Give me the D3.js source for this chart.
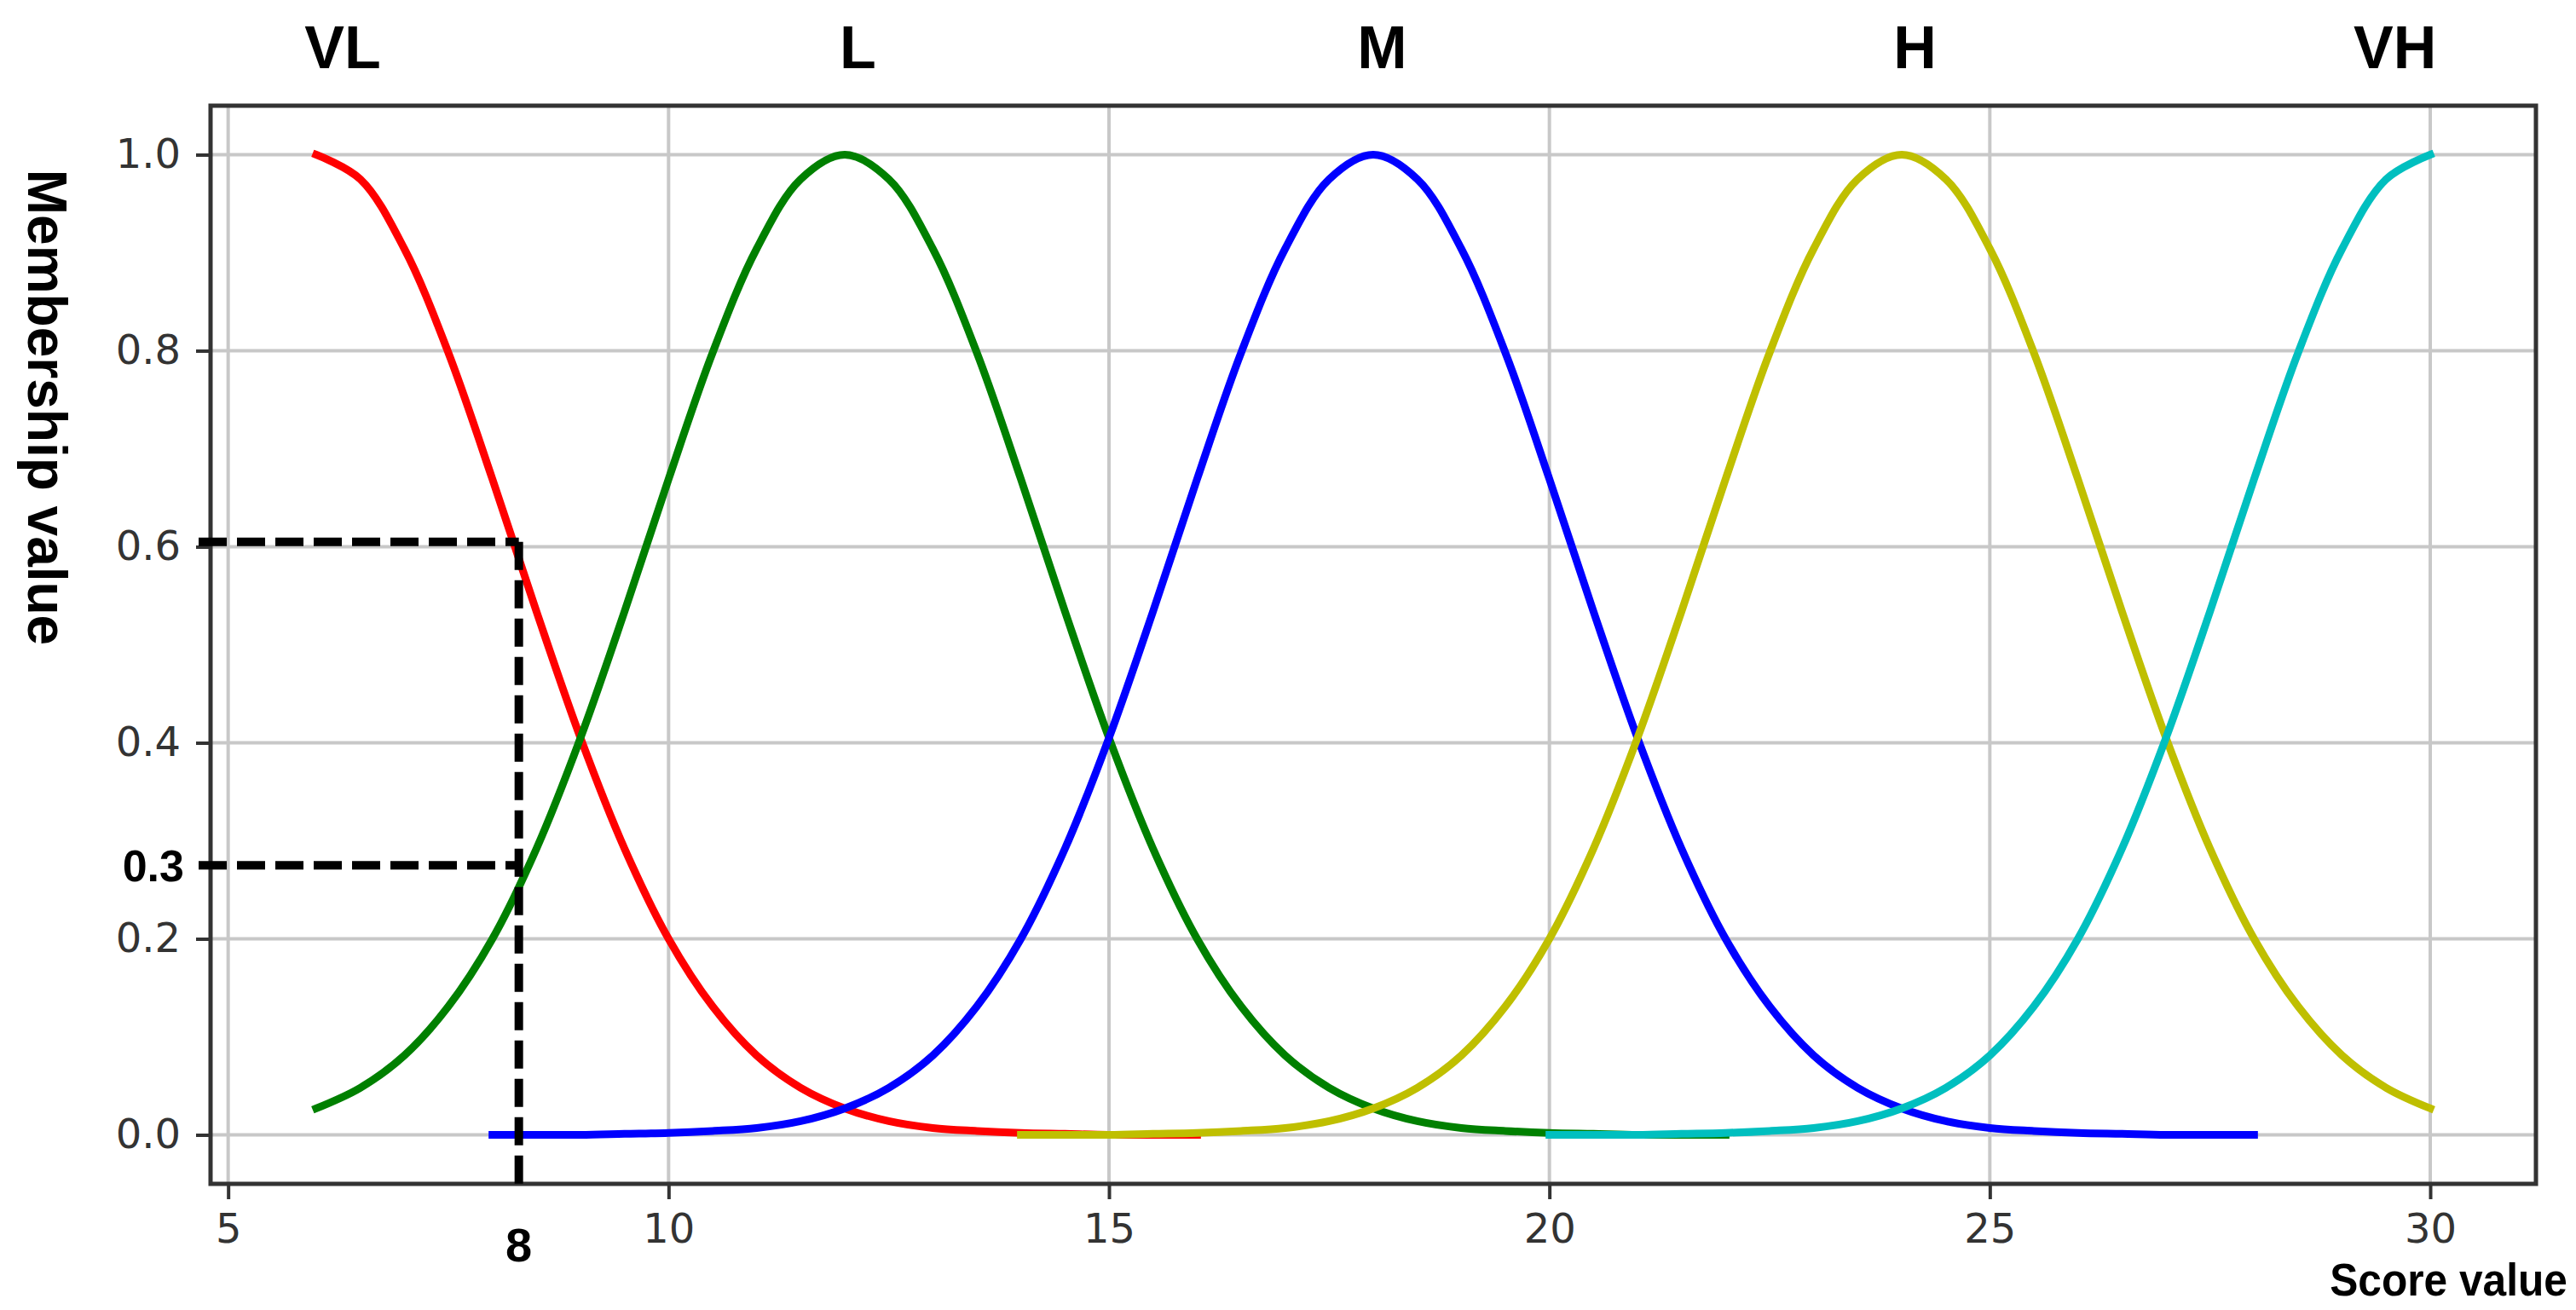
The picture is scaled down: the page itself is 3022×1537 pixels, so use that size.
<!DOCTYPE html>
<html>
<head>
<meta charset="utf-8">
<script src="https://cdn.jsdelivr.net/npm/d3@7"></script>
<style>
  body { margin: 0; background: #fff; }
</style>
</head>
<body>
<div id="chart"></div>
<script>
/*
 * Gaussian membership functions for the five score terms
 */

// score grid shared by every curve (step 0.5)
const scores = [6, 6.5, 7, 7.5, 8, 8.5, 9, 9.5, 10, 10.5, 11, 11.5, 12, 12.5, 13, 13.5, 14, 14.5,
    15, 15.5, 16, 16.5, 17, 17.5, 18, 18.5, 19, 19.5, 20, 20.5, 21, 21.5, 22, 22.5, 23, 23.5,
    24, 24.5, 25, 25.5, 26, 26.5, 27, 27.5, 28, 28.5, 29, 29.5, 30]

// membership values (null = curve not drawn there)
const veryLow = [1.000, 0.975, 0.904, 0.798, 0.669, 0.534, 0.405, 0.292, 0.200, 0.131, 0.081, 0.048,
    0.027, 0.014, 0.007, 0.004, 0.002, 0.001, 0, 0, 0,
    null, null, null, null, null, null, null, null, null, null, null, null, null, null,
    null, null, null, null, null, null, null, null, null, null, null, null, null, null]
const low = [0.027, 0.048, 0.081, 0.131, 0.200, 0.292, 0.405, 0.534, 0.669, 0.798, 0.904, 0.975, 1.000,
    0.975, 0.904, 0.798, 0.669, 0.534, 0.405, 0.292, 0.200, 0.131, 0.081, 0.048, 0.027, 0.014, 0.007,
    0.004, 0.002, 0.001, 0, 0, 0,
    null, null, null, null, null, null, null, null, null, null, null, null, null, null, null, null]
const medium = [null, null, null, null,
    0, 0, 0, 0.001, 0.002, 0.004, 0.007, 0.014, 0.027, 0.048, 0.081, 0.131, 0.200, 0.292, 0.405, 0.534,
    0.669, 0.798, 0.904, 0.975, 1.000, 0.975, 0.904, 0.798, 0.669, 0.534, 0.405, 0.292, 0.200, 0.131,
    0.081, 0.048, 0.027, 0.014, 0.007, 0.004, 0.002, 0.001, 0, 0, 0,
    null, null, null, null]
const high = [null, null, null, null, null, null, null, null, null, null, null, null, null, null, null, null,
    0, 0, 0, 0.001, 0.002, 0.004, 0.007, 0.014, 0.027, 0.048, 0.081, 0.131, 0.200, 0.292, 0.405, 0.534,
    0.669, 0.798, 0.904, 0.975, 1.000, 0.975, 0.904, 0.798, 0.669, 0.534, 0.405, 0.292, 0.200, 0.131,
    0.081, 0.048, 0.027]
const veryHigh = [null, null, null, null, null, null, null, null, null, null, null, null, null, null,
    null, null, null, null, null, null, null, null, null, null, null, null, null, null,
    0, 0, 0, 0.001, 0.002, 0.004, 0.007, 0.014, 0.027, 0.048, 0.081, 0.131, 0.200, 0.292, 0.405, 0.534,
    0.669, 0.798, 0.904, 0.975, 1.000]

const termNames = ["VL", "L", "M", "H", "VH"]
const termLabelScores = [6.3, 12.15, 18.1, 24.15, 29.6]
const termColours = ["#ff0000", "#008000", "#0000ff", "#bfbf00", "#00bfbf"]

const xTicks = [5, 10, 15, 20, 25, 30]
const yTicks = [0, 0.2, 0.4, 0.6, 0.8, 1.0]

// worked example: score 8 -> memberships 0.6 (VL) and 0.3 (L)
const exampleScore = 8.3
const exampleLabel = "8"
const exampleLevels = [0.605, 0.275]
const exampleLevelLabel = "0.3"

function drawChart(container) {

    // chart parameters
    const WIDTH = 3022
    const HEIGHT = 1537
    const PLOT = {LEFT: 247, RIGHT: 2975, TOP: 124, BOTTOM: 1389}
    const gridColour = "#c8c8c8"
    const axisColour = "#333333"

    let svg = d3.select(container).append("svg")
        .attr("width", WIDTH)
        .attr("height", HEIGHT)
        .style("display", "block")

    // scales (matplotlib style 5% margins round the data)
    let xScale = d3.scaleLinear()
        .domain([4.8, 31.2])
        .range([PLOT.LEFT, PLOT.RIGHT])
    let yScale = d3.scaleLinear()
        .domain([-0.05, 1.05])
        .range([PLOT.BOTTOM, PLOT.TOP])

    // grid
    let grid = svg.append("g").attr("class", "grid")
    grid.selectAll("line.vx").data(xTicks).join("line")
        .attr("x1", d => xScale(d)).attr("x2", d => xScale(d))
        .attr("y1", PLOT.TOP).attr("y2", PLOT.BOTTOM)
        .style("stroke", gridColour).style("stroke-width", 4)
    grid.selectAll("line.hy").data(yTicks).join("line")
        .attr("x1", PLOT.LEFT).attr("x2", PLOT.RIGHT)
        .attr("y1", d => yScale(d)).attr("y2", d => yScale(d))
        .style("stroke", gridColour).style("stroke-width", 4)

    // membership curves
    let linepoints = d3.line()
        .defined(d => d[1] !== null)
        .x(d => xScale(d[0]))
        .y(d => yScale(d[1]))
        .curve(d3.curveCatmullRom.alpha(0.5))

    const series = [veryLow, low, medium, high, veryHigh]
    series.forEach((values, i) => {
        svg.append("path")
            .datum(scores.map((s, j) => [s, values[j]]))
            .attr("d", linepoints)
            .style("fill", "none")
            .style("stroke", termColours[i])
            .style("stroke-width", 9)
            .style("stroke-linecap", "square")
            .style("stroke-linejoin", "round")
    })

    // frame
    svg.append("rect")
        .attr("x", PLOT.LEFT).attr("y", PLOT.TOP)
        .attr("width", PLOT.RIGHT - PLOT.LEFT)
        .attr("height", PLOT.BOTTOM - PLOT.TOP)
        .style("fill", "none")
        .style("stroke", axisColour)
        .style("stroke-width", 5)

    // axes
    let xAxis = svg.append("g")
        .attr("transform", "translate(0," + PLOT.BOTTOM + ")")
        .call(d3.axisBottom(xScale).tickValues(xTicks).tickSize(18).tickPadding(17).tickFormat(d3.format("d")))
    let yAxis = svg.append("g")
        .attr("transform", "translate(" + PLOT.LEFT + ",0)")
        .call(d3.axisLeft(yScale).tickValues(yTicks).tickSize(17).tickPadding(18).tickFormat(d3.format(".1f")))

    ;[xAxis, yAxis].forEach(ax => {
        ax.select(".domain").remove()
        ax.selectAll(".tick line").style("stroke", axisColour).style("stroke-width", 4)
        ax.selectAll(".tick text")
            .style("font-family", "'DejaVu Sans', sans-serif")
            .style("font-size", "48px")
            .style("fill", axisColour)
    })

    // term names above the curves
    svg.append("g").selectAll("text").data(termNames).join("text")
        .attr("x", (d, i) => xScale(termLabelScores[i]))
        .attr("y", 80)
        .attr("text-anchor", "middle")
        .style("font-family", "'Liberation Sans', Arial, sans-serif")
        .style("font-weight", "bold")
        .style("font-size", "70px")
        .text(d => d)

    // axis titles
    svg.append("text")
        .attr("transform", "translate(33,478) rotate(90)")
        .attr("text-anchor", "middle")
        .style("font-family", "'Liberation Sans', Arial, sans-serif")
        .style("font-weight", "bold")
        .style("font-size", "64px")
        .text("Membership value")

    svg.append("text")
        .attr("transform", "translate(3012,1520) scale(0.92,1)")
        .attr("text-anchor", "end")
        .style("font-family", "'Liberation Sans', Arial, sans-serif")
        .style("font-weight", "bold")
        .style("font-size", "54px")
        .text("Score value")

    // dashed read-off lines
    let dash = svg.append("g")
        .style("stroke", "#000")
        .style("stroke-width", 10)
        .style("stroke-dasharray", "33,12")
    exampleLevels.forEach(level => {
        dash.append("line")
            .attr("x1", xScale.range()[0] - 14)
            .attr("x2", xScale(exampleScore))
            .attr("y1", yScale(level))
            .attr("y2", yScale(level))
    })
    dash.append("line")
        .attr("x1", xScale(exampleScore))
        .attr("x2", xScale(exampleScore))
        .attr("y1", yScale(exampleLevels[0]))
        .attr("y2", yScale(-0.056))

    svg.append("text")
        .attr("x", xScale(exampleScore))
        .attr("y", 1480)
        .attr("text-anchor", "middle")
        .style("font-family", "'Liberation Sans', Arial, sans-serif")
        .style("font-weight", "bold")
        .style("font-size", "56px")
        .text(exampleLabel)

    svg.append("text")
        .attr("x", 216)
        .attr("y", yScale(exampleLevels[1]))
        .attr("dy", "0.36em")
        .attr("text-anchor", "end")
        .style("font-family", "'Liberation Sans', Arial, sans-serif")
        .style("font-weight", "bold")
        .style("font-size", "52px")
        .text(exampleLevelLabel)
}

drawChart("#chart")
</script>
</body>
</html>
